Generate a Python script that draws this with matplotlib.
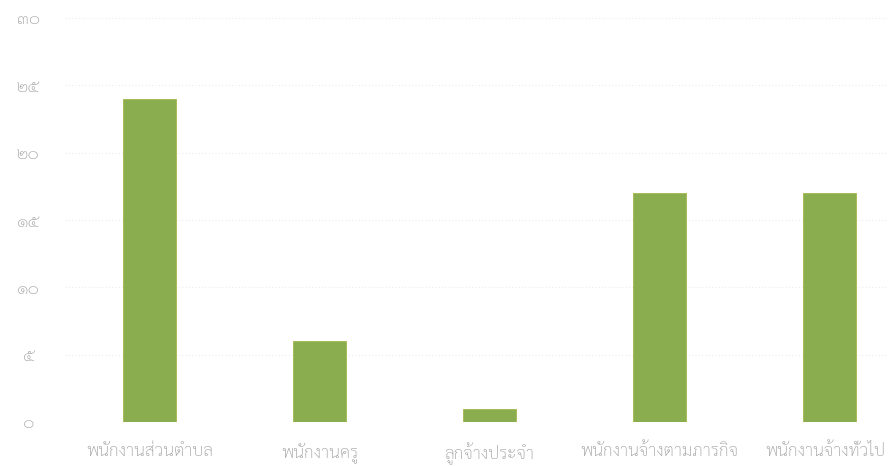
import matplotlib
matplotlib.use("Agg")
import matplotlib.pyplot as plt
import matplotlib.transforms as mtransforms

categories = ["พนักงานส่วนตำบล", "พนักงานครู", "ลูกจ้างประจำ", "พนักงานจ้างตามภารกิจ", "พนักงานจ้างทั่วไป"]
values = [24, 6, 1, 17, 17]
y_ticks = [0, 5, 10, 15, 20, 25, 30]
y_tick_labels = ["๐", "๕", "๑๐", "๑๕", "๒๐", "๒๕", "๓๐"]

plt.rcParams['font.family'] = ['Sarabun', 'DejaVu Sans']

fig = plt.figure(figsize=(8.88, 4.66), dpi=100)
W, H = 888, 466
left_px, right_px = 64.5, 914.5
bottom_px, top_px = 466 - 422, 466 - 18
ax = fig.add_axes([left_px / W, bottom_px / H, (right_px - left_px) / W, (top_px - bottom_px) / H])

x = list(range(len(categories)))
ax.bar(x, values, width=0.31, color='#8aad4f', edgecolor='#a3b84a', linewidth=0.6, zorder=3)

ax.set_xlim(-0.5, 4.5)
ax.set_ylim(0, 30)
ax.set_yticks(y_ticks)
ax.set_yticklabels(y_tick_labels, fontweight='light')
ax.set_xticks(x)
ax.set_xticklabels(categories, fontweight='light')

for s in ax.spines.values():
    s.set_visible(False)
ax.tick_params(axis='both', length=0, colors='#a0a0a0', labelsize=12.5)
ax.tick_params(axis='y', pad=26)
for t in ax.get_yticklabels():
    t.set_horizontalalignment('center')
ax.tick_params(axis='x', pad=15)
ax.grid(axis='y', color='#ececec', linestyle=(0, (1, 2)), linewidth=0.8, zorder=0)
ax.set_axisbelow(True)

# keep the last (edge) label inside the figure
last = ax.get_xticklabels()[-1]
last.set_transform(last.get_transform() + mtransforms.ScaledTranslation(-4 / 100, 0, fig.dpi_scale_trans))

fig.savefig("out.png", dpi=100)
